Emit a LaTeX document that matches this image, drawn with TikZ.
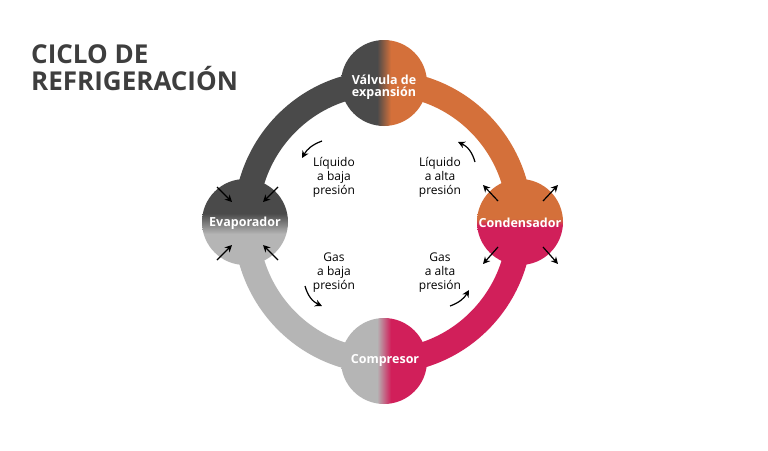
\documentclass[tikz,border=0pt]{standalone}
\usepackage{fontspec}
\setmainfont{Open Sans}
\usetikzlibrary{arrows.meta}
\definecolor{dk}{HTML}{4A4A4A}
\definecolor{orc}{HTML}{D4703A}
\definecolor{pk}{HTML}{D11F5A}
\definecolor{lg}{HTML}{B5B5B5}
\definecolor{tt}{HTML}{3E3E3E}
\pgfdeclarehorizontalshading{dkor}{100bp}{color(0bp)=(dk); color(46bp)=(dk); color(54bp)=(orc); color(100bp)=(orc)}
\pgfdeclarehorizontalshading{lgpk}{100bp}{color(0bp)=(lg); color(46bp)=(lg); color(54bp)=(pk); color(100bp)=(pk)}
\pgfdeclareverticalshading{lgdk}{100bp}{color(0bp)=(lg); color(43bp)=(lg); color(55bp)=(dk); color(100bp)=(dk)}
\pgfdeclareverticalshading{pkor}{100bp}{color(0bp)=(pk); color(48bp)=(pk); color(52bp)=(orc); color(100bp)=(orc)}
\begin{document}
\begin{tikzpicture}[x=1pt,y=-1pt,
  ring/.style={line width=25pt},
  ctext/.style={text=white,font=\bfseries\fontsize{12.5}{14}\selectfont,align=center,inner sep=0pt},
  lab/.style={font=\fontsize{12}{14}\selectfont,align=center},
  arr/.style={-{Stealth[length=7pt,width=7pt]},line width=1.2pt},
  ]
\useasboundingbox (0,0) rectangle (768,450);
\fill[white] (0,0) rectangle (768,450);
\node[anchor=north west,text=tt,font=\bfseries\fontsize{26}{27}\selectfont,align=left,inner sep=0pt] (title) at (31,44) {CICLO DE\\REFRIGERACIÓN};
\coordinate (c) at (383,222);
\draw[ring,dk] (c) ++(180:137) arc[start angle=180,end angle=270,x radius=137,y radius=139];
\draw[ring,orc] (c) ++(270:139) arc[start angle=270,end angle=360,x radius=137,y radius=139];
\draw[ring,pk] (c) ++(0:137) arc[start angle=0,end angle=90,x radius=137,y radius=139];
\draw[ring,lg] (c) ++(90:139) arc[start angle=90,end angle=180,x radius=137,y radius=139];
\shade[shading=dkor] (384,83) circle (43);
\shade[shading=lgdk] (245,222) circle (43);
\shade[shading=pkor] (520,222) circle (43);
\shade[shading=lgpk] (384,361) circle (43);
\node[ctext] (valv) at (384,87) {Válvula de\\[-2pt]expansión};
\node[ctext] (evap) at (245,223) {Evaporador};
\node[ctext] (cond) at (520,223) {Condensador};
\node[ctext] (comp) at (385,360) {Compresor};
\node[lab] (l1) at (334,177) {Líquido\\a baja\\presión};
\node[lab] (l2) at (440,177) {Líquido\\a alta\\presión};
\node[lab] (l3) at (334,273) {Gas\\a baja\\presión};
\node[lab] (l4) at (440,273) {Gas\\a alta\\presión};
% small arrows
\draw[arr] (217,187) -- (232,202);
\draw[arr] (278,187) -- (263,202);
\draw[arr] (217,260) -- (232,245);
\draw[arr] (278,260) -- (263,245);
\draw[arr] (498,201) -- (483,185);
\draw[arr] (543,201) -- (558,185);
\draw[arr] (498,247) -- (483,264);
\draw[arr] (543,247) -- (558,264);
% curved arrows
\draw[arr] (322,141) to[bend right=20] (302,158);
\draw[arr] (475,162) to[bend right=25] (458,142);
\draw[arr] (305,286) to[bend right=25] (322,306);
\draw[arr] (450,306) to[bend right=20] (469,290);
\end{tikzpicture}
\end{document}
